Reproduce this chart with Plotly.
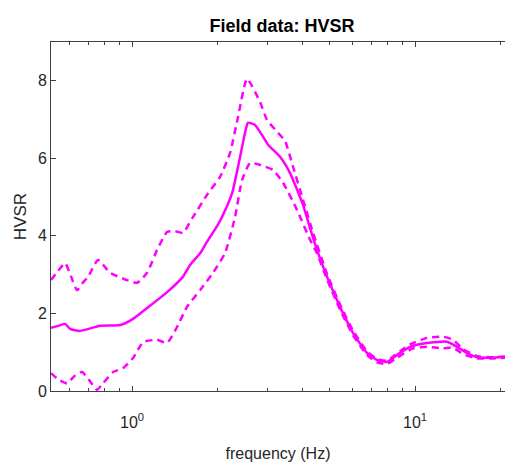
import plotly.graph_objects as go
import math

# ---- data ----
mean_freq = [0.517, 0.548, 0.580, 0.604, 0.655, 0.771, 0.907, 1.008, 1.130, 1.330,
             1.514, 1.603, 1.739, 1.841, 1.997, 2.080, 2.257, 2.369, 2.508, 2.570,
             2.720, 2.880, 3.024, 3.334, 3.617, 4.020, 4.256, 4.505, 4.887, 5.433,
             6.037, 6.767, 7.338, 7.963, 8.639, 9.601, 11.03, 12.98, 14.08, 15.27,
             16.56, 18.41, 20.80]
mean_vals = [1.63, 1.68, 1.73, 1.60, 1.55, 1.68, 1.70, 1.86, 2.14, 2.55,
             2.95, 3.25, 3.55, 3.85, 4.25, 4.49, 5.10, 5.78, 6.66, 6.92,
             6.86, 6.60, 6.35, 6.04, 5.62, 4.80, 4.20, 3.64, 2.95, 2.17,
             1.50, 0.98, 0.80, 0.75, 0.93, 1.14, 1.24, 1.27, 1.14, 0.98,
             0.87, 0.86, 0.88]

upper_freq = [0.517, 0.548, 0.580, 0.609, 0.639, 0.671, 0.699, 0.758, 0.836, 0.960,
              1.042, 1.130, 1.226, 1.330, 1.419, 1.514, 1.643, 1.856, 2.046, 2.220,
              2.369, 2.549, 2.834, 2.999, 3.281, 3.473, 3.707, 4.020, 4.361, 4.887,
              5.433, 6.037, 6.767, 7.338, 7.963, 8.639, 9.601, 11.03, 12.56, 13.62,
              14.78, 16.56, 18.41, 20.80]
upper_vals = [2.86, 3.10, 3.30, 2.95, 2.60, 2.80, 2.94, 3.38, 3.05, 2.86,
              2.79, 3.05, 3.64, 4.10, 4.12, 4.08, 4.49, 5.10, 5.52, 6.14,
              7.07, 8.05, 7.45, 6.99, 6.66, 6.45, 5.78, 4.93, 4.08, 3.02,
              2.23, 1.56, 1.02, 0.83, 0.78, 0.97, 1.20, 1.37, 1.40, 1.32,
              1.08, 0.90, 0.87, 0.89]

lower_freq = [0.517, 0.548, 0.589, 0.629, 0.666, 0.710, 0.752, 0.790, 0.857, 0.929,
              1.008, 1.094, 1.226, 1.330, 1.442, 1.564, 1.739, 1.933, 2.132, 2.312,
              2.447, 2.612, 2.834, 3.149, 3.417, 3.828, 4.256, 4.505, 4.887, 5.433,
              6.037, 6.767, 7.338, 7.963, 8.639, 9.838, 11.03, 12.56, 13.62, 14.78,
              16.56, 18.41, 20.80]
lower_vals = [0.46, 0.30, 0.20, 0.40, 0.49, 0.25, 0.03, 0.20, 0.49, 0.59,
              0.85, 1.26, 1.32, 1.24, 1.65, 2.17, 2.60, 3.05, 3.56, 4.49,
              5.44, 5.88, 5.83, 5.70, 5.37, 4.67, 3.90, 3.55, 2.88, 2.10,
              1.44, 0.93, 0.74, 0.70, 0.86, 1.10, 1.14, 1.10, 1.12, 0.95,
              0.84, 0.84, 0.86]

x_major_vals = [1, 10]
x_major_text = ["10<sup>0</sup>", "10<sup>1</sup>"]
x_minor_vals = [0.6, 0.7, 0.8, 0.9, 2, 3, 4, 5, 6, 7, 8, 9, 20]
y_tick_vals = [0, 2, 4, 6, 8]

title_text = "Field data: HVSR"
x_label = "frequency (Hz)"
y_label = "HVSR"

# ---- styles ----
MAG = "#FF00FF"
AXC = "#404040"
TXT = "#262626"
FONT = "Liberation Sans, Arial, sans-serif"

fig = go.Figure()
fig.add_trace(go.Scatter(x=upper_freq, y=upper_vals, mode="lines",
                         line=dict(color=MAG, width=2.5, dash="7px,5px",
                                   shape="spline", smoothing=0.5),
                         showlegend=False, hoverinfo="skip"))
fig.add_trace(go.Scatter(x=lower_freq, y=lower_vals, mode="lines",
                         line=dict(color=MAG, width=2.5, dash="7px,5px",
                                   shape="spline", smoothing=0.5),
                         showlegend=False, hoverinfo="skip"))
fig.add_trace(go.Scatter(x=mean_freq, y=mean_vals, mode="lines",
                         line=dict(color=MAG, width=2.5, shape="spline", smoothing=0.5),
                         showlegend=False, hoverinfo="skip"))

fig.update_layout(
    width=505, height=462,
    margin=dict(l=51, r=0, t=42, b=71),
    paper_bgcolor="white", plot_bgcolor="white",
    font=dict(family=FONT, size=16, color=TXT),
    title=dict(text="<b>" + title_text + "</b>", x=282 / 505, xref="container",
               xanchor="center", y=1 - 26 / 462, yref="container", yanchor="middle",
               font=dict(family=FONT, size=18, color="black")),
    xaxis=dict(
        type="log",
        range=[math.log10(0.517), math.log10(20.8)],
        showgrid=False, zeroline=False,
        showline=True, linecolor=AXC, linewidth=1, mirror="allticks",
        ticks="inside", ticklen=5, tickcolor=AXC, tickwidth=1,
        tickmode="array", tickvals=x_major_vals, ticktext=x_major_text,
        ticklabelstandoff=17,
        minor=dict(ticks="inside", ticklen=3, tickcolor=AXC, tickvals=x_minor_vals,
                   showgrid=False),
        tickfont=dict(family=FONT, size=16, color=TXT),
        title=dict(text=x_label, standoff=22, font=dict(family=FONT, size=16, color=TXT)),
        automargin=False,
    ),
    yaxis=dict(
        range=[0, 9],
        showgrid=False, zeroline=False,
        showline=True, linecolor=AXC, linewidth=1,
        ticks="inside", ticklen=5, tickcolor=AXC, tickwidth=1,
        tickmode="array", tickvals=y_tick_vals,
        tickfont=dict(family=FONT, size=16, color=TXT),
        title=dict(text=y_label, standoff=6, font=dict(family=FONT, size=17, color=TXT)),
        automargin=False,
    ),
)

fig.write_html(
    "out.html",
    config={"displayModeBar": False},
    post_script="document.body.style.margin='0';document.body.style.overflow='hidden';",
)
